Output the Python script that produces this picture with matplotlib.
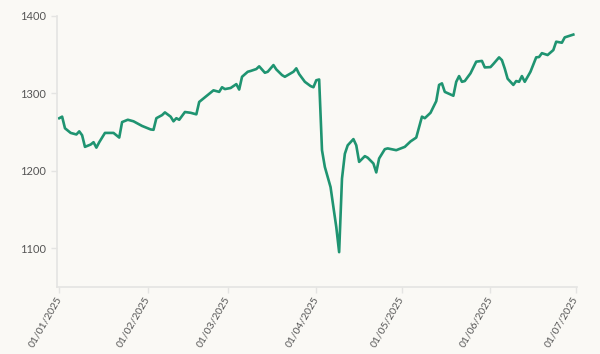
import pandas as pd
import matplotlib
matplotlib.use("Agg")
import matplotlib.pyplot as plt
import matplotlib.transforms as mtransforms

# data
dates = [
    "2025-01-01", "2025-01-02", "2025-01-03", "2025-01-05", "2025-01-07", "2025-01-08",
    "2025-01-09", "2025-01-10", "2025-01-12", "2025-01-13", "2025-01-14", "2025-01-15",
    "2025-01-17", "2025-01-20", "2025-01-22", "2025-01-23", "2025-01-25", "2025-01-27",
    "2025-01-30", "2025-02-02", "2025-02-03", "2025-02-04", "2025-02-06", "2025-02-07",
    "2025-02-09", "2025-02-10", "2025-02-11", "2025-02-12", "2025-02-14", "2025-02-16",
    "2025-02-18", "2025-02-19", "2025-02-22", "2025-02-24", "2025-02-26", "2025-02-27",
    "2025-02-28", "2025-03-02", "2025-03-04", "2025-03-05", "2025-03-06", "2025-03-08",
    "2025-03-09", "2025-03-11", "2025-03-12", "2025-03-14", "2025-03-15", "2025-03-17",
    "2025-03-18", "2025-03-20", "2025-03-21", "2025-03-24", "2025-03-25", "2025-03-26",
    "2025-03-28", "2025-03-30", "2025-03-31", "2025-04-01", "2025-04-02", "2025-04-03",
    "2025-04-04", "2025-04-06", "2025-04-07", "2025-04-08", "2025-04-09", "2025-04-10",
    "2025-04-11", "2025-04-12", "2025-04-14", "2025-04-15", "2025-04-16", "2025-04-18",
    "2025-04-19", "2025-04-21", "2025-04-22", "2025-04-23", "2025-04-25", "2025-04-26",
    "2025-04-29", "2025-05-02", "2025-05-04", "2025-05-06", "2025-05-08", "2025-05-09",
    "2025-05-11", "2025-05-13", "2025-05-14", "2025-05-15", "2025-05-16", "2025-05-19",
    "2025-05-20", "2025-05-21", "2025-05-22", "2025-05-23", "2025-05-25", "2025-05-27",
    "2025-05-29", "2025-05-30", "2025-06-01", "2025-06-02", "2025-06-04", "2025-06-05",
    "2025-06-06", "2025-06-07", "2025-06-09", "2025-06-10", "2025-06-11", "2025-06-12",
    "2025-06-13", "2025-06-15", "2025-06-17", "2025-06-18", "2025-06-19", "2025-06-21",
    "2025-06-23", "2025-06-24", "2025-06-26", "2025-06-27", "2025-06-30",
]
values = [
    1268, 1270, 1255, 1249, 1247, 1251,
    1246, 1231, 1234, 1237, 1230, 1237,
    1249, 1249, 1243, 1263, 1266, 1264,
    1258, 1253.5, 1253, 1268, 1272, 1275.5,
    1270, 1264, 1268, 1266, 1276, 1275,
    1273, 1289, 1298, 1304, 1302, 1308,
    1305.6, 1307, 1312, 1305, 1321.5, 1328,
    1329, 1331.5, 1335, 1326.7, 1328, 1336.6,
    1331, 1323.7, 1321.5, 1328, 1332.4, 1325,
    1315, 1309.5, 1308, 1317, 1318, 1226.7,
    1205, 1179, 1153, 1127.5, 1095, 1190,
    1222, 1233, 1241, 1233, 1211.6, 1219,
    1217, 1209.5, 1198, 1216, 1228, 1229,
    1226.7, 1231, 1238, 1243, 1270, 1268,
    1275, 1290, 1311, 1313, 1302, 1297,
    1315, 1322.4, 1315, 1316, 1326, 1341,
    1342, 1333.6, 1334, 1338, 1346.6, 1343,
    1332, 1319, 1311, 1316, 1315, 1322.4,
    1315, 1328, 1346.6, 1347, 1352, 1349.6,
    1356, 1366.8, 1365.5, 1372.4, 1376,
]
tick_dates = ["2025-01-01", "2025-02-01", "2025-03-01", "2025-04-01",
              "2025-05-01", "2025-06-01", "2025-07-01"]
y_ticks = [1100, 1200, 1300, 1400]

bg = "#faf9f5"
line_color = "#1f9471"
axis_color = "#e4e4e2"
text_color = "#555555"

plt.rcParams["font.family"] = ["Lato", "DejaVu Sans"]

fig = plt.figure(figsize=(6, 3.54), dpi=100, facecolor=bg)
ax = fig.add_axes([57 / 600, 67 / 354, 520 / 600, 271 / 354], facecolor=bg)

x = pd.to_datetime(dates)
ax.plot(x, values, color=line_color, linewidth=1.9, solid_joinstyle="round")

ticks = pd.to_datetime(tick_dates)
ax.set_xticks(ticks)
ax.set_xticklabels([t.strftime("%d/%m/%Y") for t in ticks], rotation=60,
                   ha="right", va="center", rotation_mode="anchor")
# nudge the rotated labels a little to the right, like the original
shift = mtransforms.ScaledTranslation(4 / 100, 0, fig.dpi_scale_trans)
for lab in ax.get_xticklabels():
    lab.set_transform(lab.get_transform() + shift)

ax.set_xlim(pd.Timestamp("2025-01-01") - pd.Timedelta(hours=19),
            pd.Timestamp("2025-07-01") + pd.Timedelta(hours=7))
ax.set_yticks(y_ticks)
ax.set_ylim(1050, 1400)

for side in ["top", "right"]:
    ax.spines[side].set_visible(False)
for side in ["left", "bottom"]:
    ax.spines[side].set_color(axis_color)
    ax.spines[side].set_linewidth(1.2)

ax.tick_params(axis="y", length=4, width=1, color=axis_color, pad=4,
               labelsize=8, labelcolor=text_color)
ax.tick_params(axis="x", length=4, width=1, color=axis_color, pad=3,
               labelsize=7.5, labelcolor=text_color)

fig.savefig("out.png", dpi=100, facecolor=bg)
